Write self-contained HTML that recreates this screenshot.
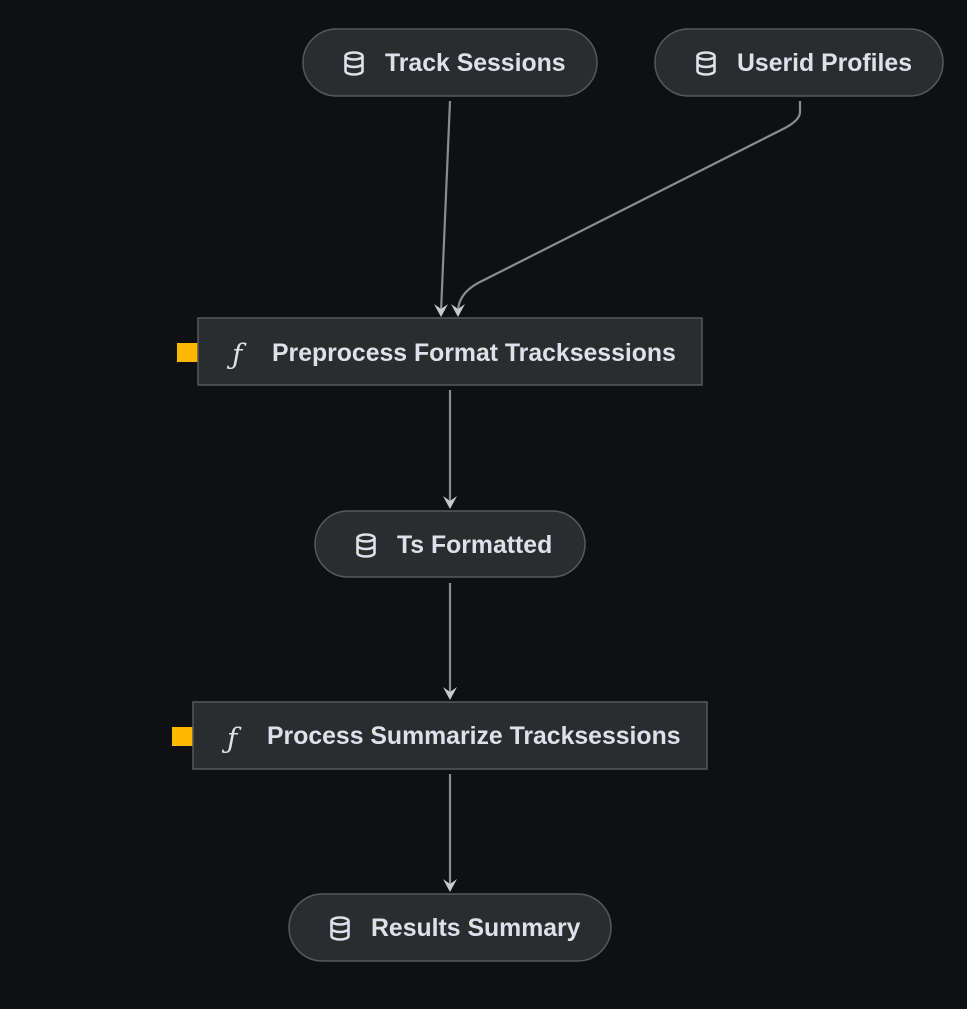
<!DOCTYPE html>
<html><head><style>
html,body{margin:0;padding:0;background:#0f1012;}
svg{display:block}
text{font-family:"Liberation Sans",sans-serif;font-weight:bold;font-size:24.8px;fill:#dde2ea;}
.n{fill:#2b2c2e;stroke:#56585c;stroke-width:1.5}
.e{fill:none;stroke:#8a8c90;stroke-width:2.2}
.db{fill:none;stroke:#dde2ea;stroke-width:2.6}
</style></head><body>
<svg width="967" height="1009" viewBox="0 0 967 1009">
<defs>
<g id="ah"><path d="M-7,-13 L0,0 L7,-13 L0,-8 Z" fill="#c8cacd"/></g>
<g id="db">
<ellipse cx="0" cy="-7" rx="8.5" ry="3.5" class="db"/>
<path d="M-8.5,-7 V8 A8.5,3.5 0 0 0 8.5,8 V-7 M-8.5,0.5 A8.5,3.5 0 0 0 8.5,0.5" class="db"/>
</g>
</defs>

<path class="e" d="M450 101 L441 312"/>
<use href="#ah" x="441" y="317"/>
<path class="e" d="M800 101 L800 112 Q800 120 785 128 L478 283 Q458 294 458 312"/>
<use href="#ah" x="458" y="317"/>
<path class="e" d="M450 390 L450 504"/>
<use href="#ah" x="450" y="509"/>
<path class="e" d="M450 583 L450 695"/>
<use href="#ah" x="450" y="700"/>
<path class="e" d="M450 774 L450 887"/>
<use href="#ah" x="450" y="892"/>

<rect class="n" x="303" y="29" width="294" height="67" rx="33.5"/>
<use href="#db" x="354" y="63"/>
<text x="385" y="71">Track Sessions</text>

<rect class="n" x="655" y="29" width="288" height="67" rx="33.5"/>
<use href="#db" x="706" y="63"/>
<text x="737" y="71">Userid Profiles</text>

<rect x="177" y="343" width="21" height="19" fill="#ffb800"/>
<rect class="n" x="198" y="318" width="504" height="67"/>
<text x="232" y="364" style="font-family:'DejaVu Serif',serif;font-style:italic;font-weight:normal;font-size:28px">ƒ</text>
<text x="272" y="361">Preprocess Format Tracksessions</text>

<rect class="n" x="315" y="511" width="270" height="66" rx="33"/>
<use href="#db" x="366" y="545"/>
<text x="397" y="553">Ts Formatted</text>

<rect x="172" y="727" width="21" height="19" fill="#ffb800"/>
<rect class="n" x="193" y="702" width="514" height="67"/>
<text x="227" y="748" style="font-family:'DejaVu Serif',serif;font-style:italic;font-weight:normal;font-size:28px">ƒ</text>
<text x="267" y="744">Process Summarize Tracksessions</text>

<rect class="n" x="289" y="894" width="322" height="67" rx="33.5"/>
<use href="#db" x="340" y="928"/>
<text x="371" y="936">Results Summary</text>
</svg>
</body></html>
